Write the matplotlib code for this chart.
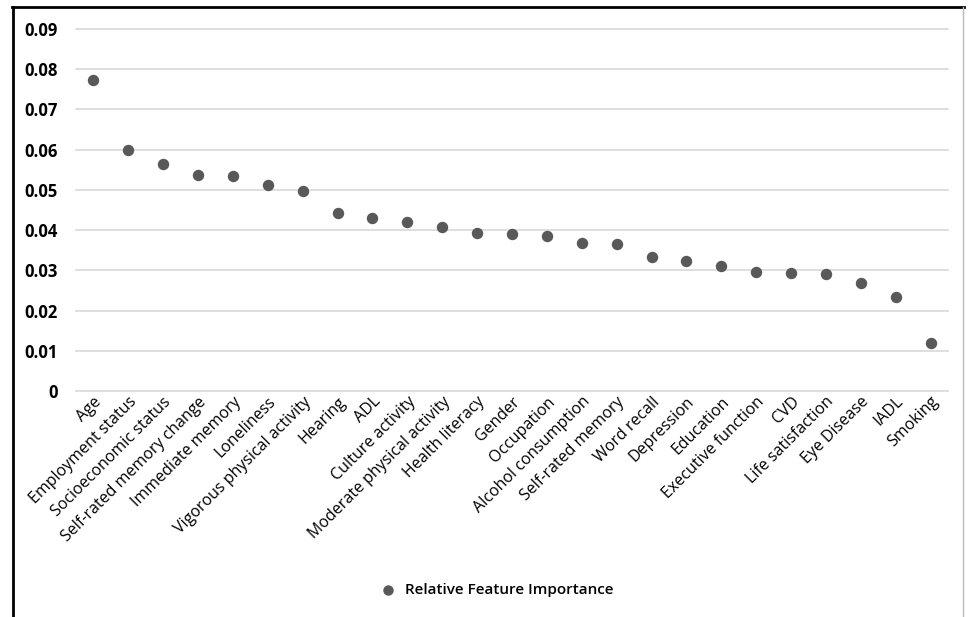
#!/usr/bin/env python3
import numpy as np
import matplotlib
matplotlib.use('Agg')
import matplotlib.pyplot as plt
from matplotlib.lines import Line2D

plt.rcParams['font.family'] = ['Open Sans', 'DejaVu Sans']

# data
features = ['Age', 'Employment status', 'Socioeconomic status',
            'Self-rated memory change', 'Immediate memory', 'Loneliness',
            'Vigorous physical activity', 'Hearing', 'ADL', 'Culture activity',
            'Moderate physical activity', 'Health literacy', 'Gender',
            'Occupation', 'Alcohol consumption', 'Self-rated memory',
            'Word recall', 'Depression', 'Education', 'Executive function',
            'CVD', 'Life satisfaction', 'Eye Disease', 'IADL', 'Smoking']
importance = [0.0772, 0.0600, 0.0565, 0.0536, 0.0535, 0.0512, 0.0498,
              0.0442, 0.0431, 0.0420, 0.0407, 0.0392, 0.0390, 0.0386,
              0.0367, 0.0366, 0.0334, 0.0324, 0.0311, 0.0297, 0.0293,
              0.0292, 0.0269, 0.0233, 0.0119]
yticks = [0, 0.01, 0.02, 0.03, 0.04, 0.05, 0.06, 0.07, 0.08, 0.09]
ytick_labels = ['0', '0.01', '0.02', '0.03', '0.04', '0.05', '0.06',
                '0.07', '0.08', '0.09']

fig = plt.figure(figsize=(9.71, 6.17), dpi=100)
ax = fig.add_axes([76/971, 1-391/617, (948-76)/971, (391-29)/617])

x = np.arange(len(features))
ax.scatter(x, importance, s=52, color='#595959', zorder=3,
           label='Relative Feature Importance')

ax.set_xlim(-0.5, len(features)-0.5)
ax.set_ylim(0, 0.09)
ax.set_yticks(yticks)
ax.set_yticklabels(ytick_labels, fontsize=12, fontweight='bold')
ax.set_xticks(x)
ax.set_xticklabels(features, rotation=45, ha='right', rotation_mode='anchor',
                   fontsize=11.5)
ax.tick_params(axis='y', length=0, pad=13)
ax.tick_params(axis='x', length=0, pad=2)
ax.grid(axis='y', color='#d9d9d9', linewidth=1.2)
for s in ax.spines.values():
    s.set_visible(False)
for gl in ax.get_ygridlines():
    gl.set_clip_on(False)

fig.legend(loc='center', bbox_to_anchor=(493/971, 1-590/617), frameon=False,
           handletextpad=0.1, markerscale=0.9,
           prop={'size': 11, 'weight': 'semibold'})

# frame around the picture
fig.add_artist(Line2D([13/971, 13/971], [0, 1-7/617], color='black', lw=2))
fig.add_artist(Line2D([12/971, 964/971], [1-7/617, 1-7/617], color='black', lw=2))
fig.add_artist(Line2D([963/971, 963/971], [0, 1-7/617], color='#bbbbbb', lw=1))

fig.savefig('out.png', dpi=100)
